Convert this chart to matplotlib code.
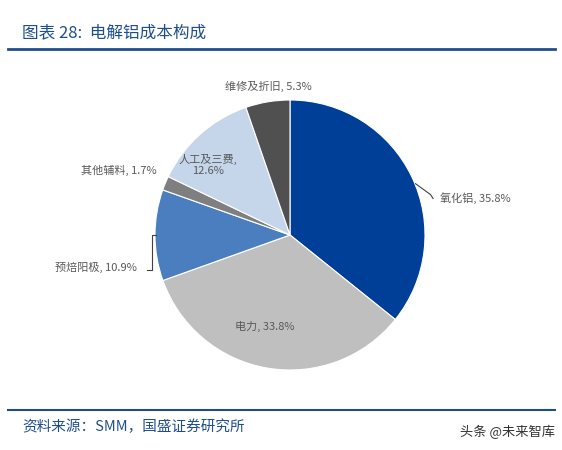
import matplotlib.pyplot as plt

plt.rcParams['font.family'] = ['Noto Sans CJK SC', 'DejaVu Sans']

labels = ['氧化铝', '电力', '预焙阳极', '其他辅料', '人工及三费', '维修及折旧']
values = [35.8, 33.8, 10.9, 1.7, 12.6, 5.3]
colors = ['#003f98', '#bfbfbf', '#4a7ebf', '#7f7f7f', '#c5d5ea', '#505050']
label_pos = [(1.37, 0.27), (-0.19, -0.68), (-1.44, -0.24), (-1.27, 0.48), (-0.61, 0.52), (-0.16, 1.10)]

W, H = 562, 450
fig = plt.figure(figsize=(W / 100, H / 100), dpi=100)

# title and rules
fig.text(22 / W, 1 - 33 / H, '图表 28:  电解铝成本构成', color='#1f4e8c', fontsize=12,
         style='italic', va='center')
fig.add_artist(plt.Line2D([8 / W, 555 / W], [1 - 49 / H] * 2, color='#1f4e8c', lw=2))
fig.add_artist(plt.Line2D([8 / W, 555 / W], [1 - 410 / H] * 2, color='#1f4e8c', lw=1.5))
fig.text(22 / W, 1 - 427 / H, '资料来源：SMM，国盛证券研究所', color='#1f4e8c', fontsize=10.5,
         style='italic', va='center')
fig.text(555 / W, 1 - 432 / H, '头条 @未来智库', color='#333333', fontsize=9.5, ha='right', va='center')

ax = fig.add_axes([155 / W, 80 / H, 270 / W, 270 / H])
ax.pie(values, colors=colors, startangle=90, counterclock=False,
       wedgeprops=dict(linewidth=0.8, edgecolor='white'))
ax.set_xlim(-1, 1)
ax.set_ylim(-1, 1)
ax.set_aspect('equal')

for name, v, (x, y) in zip(labels, values, label_pos):
    txt = f'{name},\n{v}%' if name == '人工及三费' else f'{name}, {v}%'
    ax.text(x, y, txt, ha='center', va='center', fontsize=8, color='#595959', clip_on=False)

# leader lines
ax.plot([0.93, 1.04, 1.06], [0.38, 0.30, 0.27], color='#404040', lw=0.8, clip_on=False)
ax.plot([-0.99, -1.02, -1.02, -1.06], [0.0, 0.0, -0.26, -0.26], color='#404040', lw=0.8, clip_on=False)

fig.savefig('out.png', dpi=100)
